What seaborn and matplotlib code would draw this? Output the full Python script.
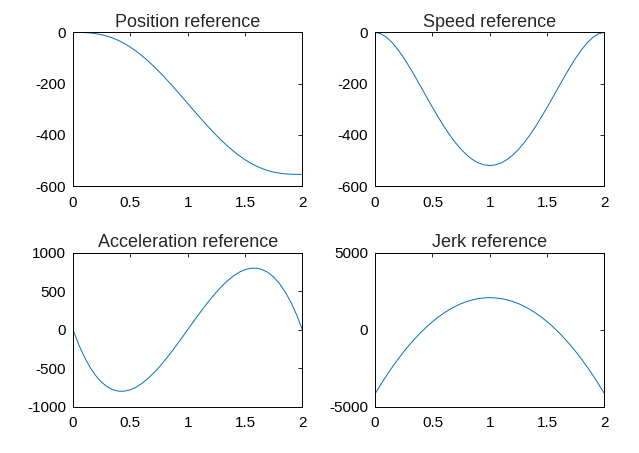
import numpy as np
import pandas as pd
import matplotlib
matplotlib.use("Agg")
import matplotlib.pyplot as plt
import seaborn as sns

# time axis (s)
t = [0.0, 0.05, 0.1, 0.15, 0.2, 0.25, 0.3, 0.35, 0.4, 0.45, 0.5, 0.55, 0.6, 0.65, 0.7,
     0.75, 0.8, 0.85, 0.9, 0.95, 1.0, 1.05, 1.1, 1.15, 1.2, 1.25, 1.3, 1.35, 1.4, 1.45,
     1.5, 1.55, 1.6, 1.65, 1.7, 1.75, 1.8, 1.85, 1.9, 1.95, 2.0]

# values
position = [0.0, -0.08, -0.64, -2.1, -4.8, -8.9, -14.8, -22.5, -32.1, -43.8, -57.4, -73.0,
            -90.5, -109.7, -130.4, -152.7, -176.1, -200.5, -225.7, -251.4, -277.3, -303.3,
            -329.0, -354.2, -378.6, -402.0, -424.2, -445.0, -464.2, -481.7, -497.2, -510.9,
            -522.5, -532.2, -539.9, -545.8, -549.9, -552.6, -554.0, -554.6, -554.7]
speed = [0.0, -4.9, -18.8, -40.0, -67.4, -99.5, -135.3, -173.4, -213.0, -253.0, -292.5,
         -330.7, -366.9, -400.4, -430.6, -457.0, -479.2, -496.9, -509.7, -517.4, -520.0,
         -517.4, -509.7, -496.9, -479.2, -457.0, -430.6, -400.4, -366.9, -330.7, -292.5,
         -253.0, -213.0, -173.4, -135.3, -99.5, -67.4, -40.0, -18.8, -4.9, 0.0]
acceleration = [0, -193, -356, -491, -599, -683, -743, -781, -799, -798, -780, -747, -699,
                -639, -568, -488, -399, -305, -206, -104, 0, 104, 206, 305, 399, 488, 568,
                639, 699, 747, 780, 798, 799, 781, 743, 683, 599, 491, 356, 193, 0]
jerk = [-4160, -3552, -2974, -2428, -1914, -1430, -978, -556, -166, 192, 520, 816, 1082,
        1316, 1518, 1690, 1830, 1940, 2018, 2064, 2080, 2064, 2018, 1940, 1830, 1690, 1518,
        1316, 1082, 816, 520, 192, -166, -556, -978, -1430, -1914, -2428, -2974, -3552, -4160]

titles = ["Position reference", "Speed reference", "Acceleration reference", "Jerk reference"]
ylims = [(-600, 0), (-600, 0), (-1000, 1000), (-5000, 5000)]
yticks = [[-600, -400, -200, 0], [-600, -400, -200, 0],
          [-1000, -500, 0, 500, 1000], [-5000, 0, 5000]]
xticks = [0, 0.5, 1, 1.5, 2]

sns.set_style("white")
plt.rcParams['font.family'] = ['Liberation Sans', 'DejaVu Sans']
plt.rcParams['axes.unicode_minus'] = False

fig = plt.figure(figsize=(6.39, 4.53), dpi=100)
positions = [[0.1142, 0.5894, 0.359, 0.339], [0.587, 0.5894, 0.359, 0.339],
             [0.1142, 0.1022, 0.359, 0.340], [0.587, 0.1022, 0.359, 0.340]]

for i, series in enumerate([position, speed, acceleration, jerk]):
    ax = fig.add_axes(positions[i])
    df = pd.DataFrame({"t": t, "v": series})
    sns.lineplot(data=df, x="t", y="v", ax=ax, color="#0072BD", linewidth=0.7)
    ax.set_xlim(0, 2)
    ax.set_ylim(*ylims[i])
    ax.set_xticks(xticks)
    ax.set_xticklabels(["0", "0.5", "1", "1.5", "2"])
    ax.set_yticks(yticks[i])
    ax.set_yticklabels([str(v) for v in yticks[i]])
    ax.set_xlabel("")
    ax.set_ylabel("")
    ax.set_title(titles[i], fontsize=13, pad=4)
    ax.tick_params(direction="in", length=3, width=0.6, top=True, right=True,
                   labelsize=11, colors="black")
    ax.tick_params(axis="x", pad=7)
    ax.tick_params(axis="y", pad=5)
    for sp in ax.spines.values():
        sp.set_visible(True)
        sp.set_color("black")
        sp.set_linewidth(0.7)

fig.savefig("out.png", dpi=100, facecolor="white")
